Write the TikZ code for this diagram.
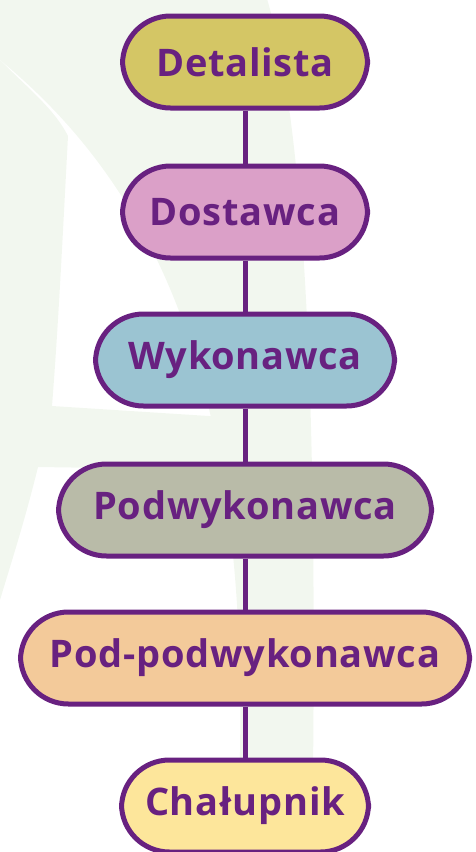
\documentclass[tikz,border=0pt]{standalone}
\usepackage{fontspec}
\setmainfont{Open Sans}[LetterSpace=2]
\definecolor{chainline}{RGB}{104,33,128}
\definecolor{leafgreen}{RGB}{242,247,239}
\definecolor{fillretail}{RGB}{212,198,101}
\definecolor{fillsupply}{RGB}{219,160,200}
\definecolor{fillmain}{RGB}{155,196,210}
\definecolor{fillsub}{RGB}{185,187,168}
\definecolor{fillsubsub}{RGB}{243,202,154}
\definecolor{fillhome}{RGB}{253,230,155}
\tikzset{
	tier/.style={draw=chainline, line width=5pt, rectangle, rounded corners=48pt,
		minimum height=92pt, text=chainline, font=\fontsize{38}{40}\selectfont\bfseries},
	link/.style={draw=chainline, line width=5pt}
}
\begin{document}
\begin{tikzpicture}[x=1pt, y=1pt]
		\useasboundingbox (0,0) rectangle (476,-852);

		% faint leaf in the background
		\fill[leafgreen] (0,0) -- (40,0) .. controls (200,110) and (330,330) .. (312,-852)
			-- (236,-852) .. controls (262,-420) and (170,-200) .. (0,-60) -- cycle;
		\fill[leafgreen] (0,-60) .. controls (30,-90) and (55,-110) .. (68,-136)
			.. controls (62,-250) and (58,-330) .. (52,-406) -- (240,-418) -- (240,-470)
			-- (38,-467) .. controls (25,-520) and (12,-560) .. (0,-600) -- cycle;

		\node[tier, fill=fillretail, minimum width=245pt] (retailer) at (245,-62) {Detalista};
		\node[tier, fill=fillsupply, minimum width=245pt] (supplier) at (245,-212) {Dostawca};
		\node[tier, fill=fillmain, minimum width=299pt] (contractor) at (245,-360) {Wykonawca};
		\node[tier, fill=fillsub, minimum width=373pt] (subcontractor) at (245,-510) {Podwykonawca};
		\node[tier, fill=fillsubsub, minimum width=449pt] (subsubcontractor) at (245,-658) {Pod-podwykonawca};
		\node[tier, fill=fillhome, minimum width=247pt] (homeworker) at (245,-806) {Chałupnik};

		\draw[link] (retailer) -- (supplier);
		\draw[link] (supplier) -- (contractor);
		\draw[link] (contractor) -- (subcontractor);
		\draw[link] (subcontractor) -- (subsubcontractor);
		\draw[link] (subsubcontractor) -- (homeworker);
	\end{tikzpicture}
\end{document}
